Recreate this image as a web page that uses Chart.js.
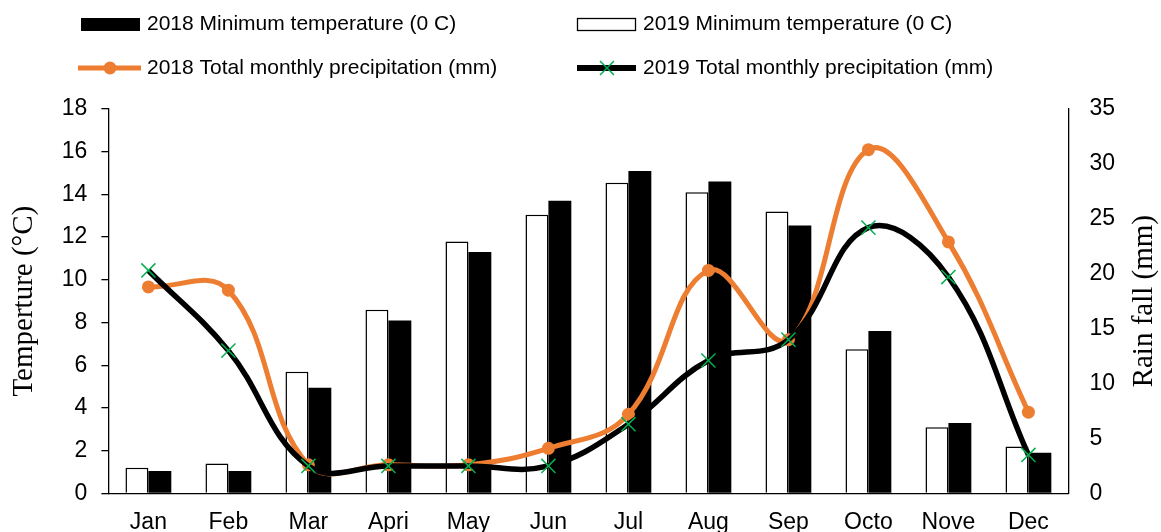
<!DOCTYPE html>
<html lang="en">
<head>
    <meta charset="UTF-8">
    <title>Minimum temperature and monthly precipitation 2018-2019</title>
    <style>
        html, body {
            margin: 0;
            padding: 0;
            background: #ffffff;
            overflow: hidden;
        }
        /* a bit taller than the window so the month labels get clipped like in the original */
        #chart-box {
            width: 1161px;
            height: 544px;
        }
    </style>
</head>
<body>

<div id="chart-box">
    <canvas id="climateChart"></canvas>
</div>

<script src="https://cdn.jsdelivr.net/npm/chart.js"></script>

<script>
    // values
    const months = ['Jan', 'Feb', 'Mar', 'Apri', 'May', 'Jun', 'Jul', 'Aug', 'Sep', 'Octo', 'Nove', 'Dec'];
    const minTemp2018 = [1.05, 1.05, 4.95, 8.1, 11.3, 13.7, 15.1, 14.6, 12.55, 7.6, 3.3, 1.9];
    const minTemp2019 = [1.2, 1.4, 5.7, 8.6, 11.8, 13.05, 14.55, 14.1, 13.2, 6.75, 3.1, 2.2];
    const rain2018 = [18.8, 18.5, 2.6, 2.6, 2.6, 4.1, 7.2, 20.3, 14.0, 31.3, 22.9, 7.4];
    const rain2019 = [20.3, 13.0, 2.5, 2.5, 2.5, 2.5, 6.3, 12.1, 14.0, 24.2, 19.7, 3.5];

    const legendNames = [
        '2018 Minimum temperature (0 C)',
        '2019 Minimum temperature (0 C)',
        '2018 Total monthly precipitation (mm)',
        '2019 Total monthly precipitation (mm)'
    ];

    const ORANGE = '#ED7D31';
    const GREEN = '#00B050';
    const sansFont = '"Liberation Sans", Arial, sans-serif';
    const serifFont = '"Liberation Serif", "Times New Roman", serif';

    Chart.defaults.color = '#000';
    Chart.defaults.font.family = sansFont;
    Chart.defaults.font.size = 23;

    // legend laid out in two fixed columns, like the spreadsheet one
    const gridLegend = {
        id: 'gridLegend',
        afterDraw(chart) {
            const ctx = chart.ctx;
            ctx.save();
            ctx.font = '21px ' + sansFont;
            ctx.textBaseline = 'middle';

            // row 1: bar swatches
            ctx.fillStyle = '#000';
            ctx.fillRect(81, 18, 59, 13);
            ctx.fillStyle = '#fff';
            ctx.fillRect(577, 18, 59, 13);
            ctx.lineWidth = 1.3;
            ctx.strokeStyle = '#000';
            ctx.strokeRect(577.5, 18.5, 58, 12);

            // row 2: line swatches
            ctx.lineWidth = 5;
            ctx.strokeStyle = ORANGE;
            ctx.beginPath();
            ctx.moveTo(78, 68);
            ctx.lineTo(141, 68);
            ctx.stroke();
            ctx.fillStyle = ORANGE;
            ctx.beginPath();
            ctx.arc(110, 68, 6.5, 0, Math.PI * 2);
            ctx.fill();

            ctx.strokeStyle = '#000';
            ctx.lineWidth = 6;
            ctx.beginPath();
            ctx.moveTo(577, 68);
            ctx.lineTo(636, 68);
            ctx.stroke();
            ctx.strokeStyle = GREEN;
            ctx.lineWidth = 1.5;
            ctx.beginPath();
            ctx.moveTo(600, 61);
            ctx.lineTo(614, 75);
            ctx.moveTo(614, 61);
            ctx.lineTo(600, 75);
            ctx.stroke();

            ctx.fillStyle = '#000';
            ctx.fillText(legendNames[0], 147, 24);
            ctx.fillText(legendNames[1], 643, 24);
            ctx.fillText(legendNames[2], 147, 68);
            ctx.fillText(legendNames[3], 643, 68);

            // right axis title reads bottom-to-top
            const area = chart.chartArea;
            ctx.translate(1144, (area.top + area.bottom) / 2);
            ctx.rotate(-Math.PI / 2);
            ctx.textAlign = 'center';
            ctx.font = '29px ' + serifFont;
            ctx.fillText('Rain fall (mm)', 0, 0);
            ctx.restore();
        }
    };

    const ctx = document.getElementById('climateChart').getContext('2d');
    new Chart(ctx, {
        type: 'bar',
        data: {
            labels: months,
            datasets: [
                {
                    label: legendNames[1],
                    data: minTemp2019,
                    backgroundColor: '#fff',
                    borderColor: '#000',
                    borderWidth: 1.5,
                    yAxisID: 'y',
                    order: 2
                },
                {
                    label: legendNames[0],
                    data: minTemp2018,
                    backgroundColor: '#000',
                    borderWidth: 0,
                    yAxisID: 'y',
                    order: 3
                },
                {
                    type: 'line',
                    label: legendNames[2],
                    data: rain2018,
                    borderColor: ORANGE,
                    backgroundColor: ORANGE,
                    borderWidth: 5,
                    tension: 0.4,
                    pointStyle: 'circle',
                    pointRadius: 6.5,
                    pointBorderWidth: 0,
                    yAxisID: 'y1',
                    order: 1
                },
                {
                    type: 'line',
                    label: legendNames[3],
                    data: rain2019,
                    borderColor: '#000',
                    backgroundColor: '#000',
                    borderWidth: 5.5,
                    tension: 0.4,
                    pointStyle: 'crossRot',
                    pointRadius: 10,
                    pointBorderColor: GREEN,
                    pointBorderWidth: 1.5,
                    yAxisID: 'y1',
                    order: 0
                }
            ]
        },
        options: {
            responsive: true,
            maintainAspectRatio: false,
            animation: false,
            layout: {
                padding: { top: 109, bottom: 1, left: 0, right: 25 }
            },
            datasets: {
                bar: {
                    categoryPercentage: 0.573,
                    barPercentage: 1.0
                }
            },
            plugins: {
                legend: { display: false },
                tooltip: { enabled: false }
            },
            scales: {
                x: {
                    grid: { display: false },
                    border: { color: '#000', width: 1.3 },
                    ticks: { padding: 7 }
                },
                y: {
                    position: 'left',
                    min: 0,
                    max: 18,
                    ticks: { stepSize: 2, padding: 14 },
                    grid: {
                        drawOnChartArea: false,
                        drawTicks: true,
                        tickLength: 7,
                        color: '#000',
                        lineWidth: 1.3
                    },
                    border: { color: '#000', width: 1.3 },
                    title: {
                        display: true,
                        text: 'Temperture (°C)',
                        font: { family: serifFont, size: 29 },
                        padding: { top: 7, bottom: 6 }
                    }
                },
                y1: {
                    position: 'right',
                    min: 0,
                    max: 35,
                    ticks: { stepSize: 5, padding: 21 },
                    grid: { display: false, drawTicks: false },
                    border: { color: '#000', width: 1.3 }
                }
            }
        },
        plugins: [gridLegend]
    });
</script>

</body>
</html>
